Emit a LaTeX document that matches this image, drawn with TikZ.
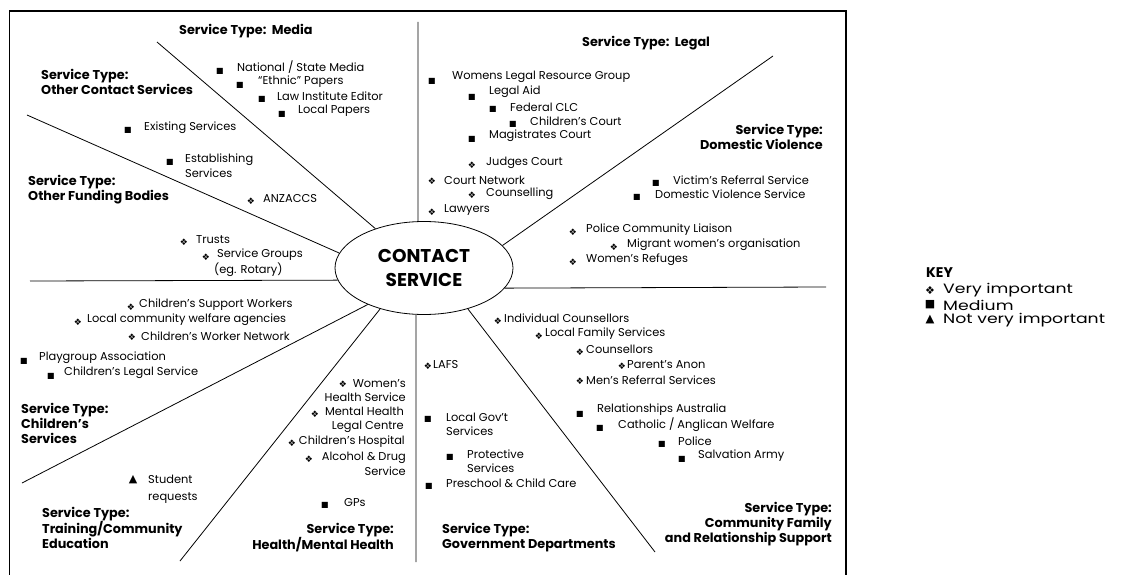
\documentclass[tikz,border=0pt]{standalone}
\usepackage{graphicx}
\usepackage{fontspec}
\setmainfont{Poppins}
\newfontfamily\symf{DejaVu Sans}
\usetikzlibrary{shapes.geometric, positioning}

\tikzset{
    txt/.style={anchor=west, inner sep=0pt, align=left, font=\fontsize{11.4}{14.5}\selectfont},
    txtr/.style={txt, anchor=east, align=right},
    hd/.style={anchor=west, inner sep=0pt, align=left, font=\bfseries\fontsize{12.8}{15}\selectfont},
    hdr/.style={hd, anchor=east, align=right},
    vimp/.style={inner sep=0pt, font=\symf\fontsize{9}{9}\selectfont},
    med/.style={inner sep=0pt, font=\symf\fontsize{8}{8}\selectfont},
    low/.style={inner sep=0pt, font=\symf\fontsize{11}{11}\selectfont},
    keytxt/.style={anchor=west, inner sep=0pt, font=\fontsize{13.5}{13.5}\selectfont},
    ray/.style={line width=0.8pt},
}
\newcommand{\keystretch}[1]{\scalebox{1.28}[1]{#1}}

\begin{document}
\begin{tikzpicture}[x=1pt, y=-1pt]
    \useasboundingbox (0,0) rectangle (1122,575);

    % frame
    \draw[line width=1.6pt] (9.5,600) |- (846,11) -- (846,600);

    % centre
    \node[ellipse, draw, line width=0.8pt, minimum width=178, minimum height=93,
        align=center, font=\bfseries\fontsize{18.5}{24}\selectfont] (cs) at (424,268) {CONTACT\\SERVICE};

    % rays
    \coordinate (r1) at (157,42);
    \coordinate (r2) at (27,115);
    \coordinate (r3) at (30,281);
    \coordinate (r4) at (22,483);
    \coordinate (r5) at (180,561);
    \coordinate (r6) at (416,562);
    \coordinate (r7) at (655,552);
    \coordinate (r8) at (826,287);
    \coordinate (r9) at (773,56);
    \coordinate (r10) at (418,22);

    \draw[ray] (cs.141.9) -- (r1)
        (cs.170.1) -- (r2)
        (cs.188.6) -- (r3)
        (cs.213.9) -- (r4)
        (cs.223.7) -- (r5)
        (cs.south -| r6) -- (r6)
        (cs.317.7) -- (r7)
        (cs.346.9) -- (r8)
        (cs.16.2) -- (r9)
        (cs.north -| r10) -- (r10);

    % media
    \node[hd] (hmedia) at (179,31) {Service Type:\ \ Media};
    \node[med] (b1) at (220,71) {■};
    \node[med] (b2) at (240,85) {■};
    \node[med] (b3) at (262,99) {■};
    \node[med] (b4) at (282,114) {■};
    \node[txt] (t1) at (237,67) {National / State Media};
    \node[txt] (t2) at (258,82) {“Ethnic” Papers};
    \node[txt] (t3) at (277,96) {Law Institute Editor};
    \node[txt] (t4) at (298,111) {Local Papers};

    % other contact services
    \node[hd] (hother) at (41,82) {Service Type:\\Other Contact Services};
    \node[med] (b5) at (128,130) {■};
    \node[med] (b6) at (170,162) {■};
    \node[txt] (t5) at (144,128) {Existing Services};
    \node[txt] (t6) at (185,165.5) {Establishing\\Services};

    % other funding bodies
    \node[hd] (hfund) at (28,190) {Service Type:\\Other Funding Bodies};
    \node[vimp] (b7) at (251,201) {❖};
    \node[vimp] (b8) at (184,242) {❖};
    \node[vimp] (b9) at (206,257) {❖};
    \node[txt] (t7) at (263,199) {ANZACCS};
    \node[txt] (t8) at (196,240) {Trusts};
    \node[txt] (t9) at (217,255) {Service Groups};
    \node[txt] (t10) at (214,270) {(eg. Rotary)};

    % children's services
    \node[hd] (hchild) at (21,423.5) {Service Type:\\Children’s\\Services};
    \node[vimp] (b11) at (131,307) {❖};
    \node[vimp] (b12) at (78,322) {❖};
    \node[vimp] (b13) at (132,337) {❖};
    \node[med] (b14) at (24,361) {■};
    \node[med] (b15) at (51,376) {■};
    \node[txt] (t11) at (139,305) {Children’s Support Workers};
    \node[txt] (t12) at (87,320) {Local community welfare agencies};
    \node[txt] (t13) at (141,336) {Children’s Worker Network};
    \node[txt] (t14) at (39,358) {Playgroup Association};
    \node[txt] (t15) at (64,373) {Children’s Legal Service};

    % training
    \node[hd] (htrain) at (42,528) {Service Type:\\Training/Community\\Education};
    \node[low] (b16) at (133,480) {▲};
    \node[txt] (t16) at (148,479) {Student};
    \node[txt] (t17) at (148,498) {requests};

    % health
    \node[hdr] (hhealth) at (394,537.5) {Service Type:\\Health/Mental Health};
    \node[vimp] (b18) at (343,384) {❖};
    \node[vimp] (b19) at (315,414) {❖};
    \node[vimp] (b20) at (292,443) {❖};
    \node[vimp] (b21) at (309,459) {❖};
    \node[med] (b22) at (325,505) {■};
    \node[txtr] (t18) at (406,390.5) {Women’s\\Health Service};
    \node[txtr] (t19) at (404,420) {Mental Health\\Legal Centre};
    \node[txtr] (t20) at (405,442) {Children’s Hospital};
    \node[txtr] (t21) at (406,464) {Alcohol \& Drug\\Service};
    \node[txt] (t22) at (344,503) {GPs};

    % legal
    \node[hd] (hlegal) at (582,43) {Service Type:\ \ Legal};
    \node[med] (b23) at (432,81) {■};
    \node[med] (b24) at (472,97) {■};
    \node[med] (b25) at (493,109) {■};
    \node[med] (b26) at (513,124) {■};
    \node[med] (b27) at (472,139) {■};
    \node[vimp] (b28) at (472,165) {❖};
    \node[vimp] (b29) at (432,181) {❖};
    \node[vimp] (b30) at (472,195) {❖};
    \node[vimp] (b31) at (432,212) {❖};
    \node[txt] (t23) at (452,77) {Womens Legal Resource Group};
    \node[txt] (t24) at (489,92) {Legal Aid};
    \node[txt] (t25) at (510,107) {Federal CLC};
    \node[txt] (t26) at (530,121) {Children’s Court};
    \node[txt] (t27) at (489,136) {Magistrates Court};
    \node[txt] (t28) at (486,163) {Judges Court};
    \node[txt] (t29) at (444,180) {Court Network};
    \node[txt] (t30) at (486,194) {Counselling};
    \node[txt] (t31) at (444,210) {Lawyers};

    % domestic violence
    \node[hdr] (hdv) at (823,136.5) {Service Type:\\Domestic Violence};
    \node[med] (b32) at (656,183) {■};
    \node[med] (b33) at (637,197) {■};
    \node[vimp] (b34) at (573,232) {❖};
    \node[vimp] (b35) at (614,247) {❖};
    \node[vimp] (b36) at (573,262) {❖};
    \node[txt] (t32) at (673,180) {Victim’s Referral Service};
    \node[txt] (t33) at (655,194) {Domestic Violence Service};
    \node[txt] (t34) at (586,230) {Police Community Liaison};
    \node[txt] (t35) at (627,245) {Migrant women’s organisation};
    \node[txt] (t36) at (586,260) {Women’s Refuges};

    % community family
    \node[hdr] (hcomm) at (832,524) {Service Type:\\Community Family\\and Relationship Support};
    \node[vimp] (b37) at (498,321) {❖};
    \node[vimp] (b38) at (539,336) {❖};
    \node[vimp] (b39) at (580,352) {❖};
    \node[vimp] (b40) at (622,366) {❖};
    \node[vimp] (b41) at (580,381) {❖};
    \node[med] (b42) at (580,414) {■};
    \node[med] (b43) at (600,428) {■};
    \node[med] (b44) at (662,444) {■};
    \node[med] (b45) at (682,459) {■};
    \node[txt] (t37) at (504,318) {Individual Counsellors};
    \node[txt] (t38) at (545,334) {Local Family Services};
    \node[txt] (t39) at (586,349) {Counsellors};
    \node[txt] (t40) at (627,365) {Parent’s Anon};
    \node[txt] (t41) at (586,380) {Men’s Referral Services};
    \node[txt] (t42) at (597,410) {Relationships Australia};
    \node[txt] (t43) at (618,425) {Catholic / Anglican Welfare};
    \node[txt] (t44) at (678,441) {Police};
    \node[txt] (t45) at (698,456) {Salvation Army};

    % government
    \node[hd] (hgov) at (442,537.5) {Service Type:\\Government Departments};
    \node[vimp] (b46) at (428,366) {❖};
    \node[med] (b47) at (428,419) {■};
    \node[med] (b48) at (450,457) {■};
    \node[med] (b49) at (429,486) {■};
    \node[txt] (t46) at (433,365) {LAFS};
    \node[txt] (t47) at (446,424.5) {Local Gov’t\\Services};
    \node[txt] (t48) at (467,461) {Protective\\Services};
    \node[txt] (t49) at (446,483) {Preschool \& Child Care};

    % key
    \node[anchor=west, inner sep=0pt, font=\bfseries\fontsize{14}{14}\selectfont] (key) at (926,273) {KEY};
    \node[vimp, font=\symf\fontsize{11}{11}\selectfont] (k1) at (930,291) {❖};
    \node[med, font=\symf\fontsize{11}{11}\selectfont] (k2) at (930,305) {■};
    \node[low, font=\symf\fontsize{11.5}{11.5}\selectfont] (k3) at (930,320) {▲};
    \node[keytxt] (kt1) at (943,290) {\keystretch{Very important}};
    \node[keytxt] (kt2) at (943,305) {\keystretch{Medium}};
    \node[keytxt] (kt3) at (943,320) {\keystretch{Not very important}};
\end{tikzpicture}
\end{document}
